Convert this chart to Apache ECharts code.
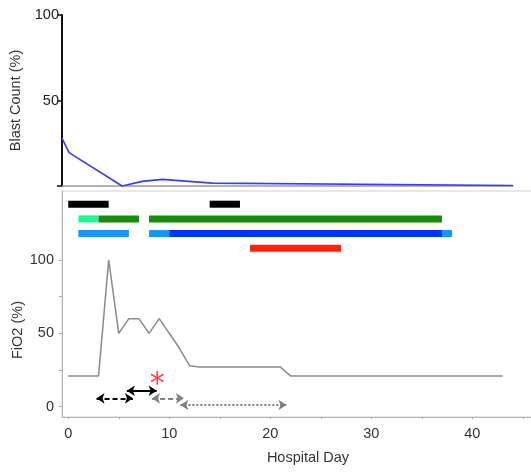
<!DOCTYPE html>
<html><head><meta charset="utf-8">
<script src="https://cdn.jsdelivr.net/npm/echarts@6/dist/echarts.min.js"></script>
<style>html,body{margin:0;padding:0;background:#fff}#c{width:531px;height:472px}</style>
</head><body><div id="c"></div>
<script>
// ---- data ----
const blastDays = [0, 0.7, 6, 8, 10, 15, 45];
const blastValues = [28, 19.5, 0, 2.7, 3.9, 1.7, 0.3];
const fio2Days = [0, 3, 4, 5, 6, 7, 8, 9, 11, 12, 13, 21, 22, 43];
const fio2Values = [21, 21, 100, 50, 60, 60, 50, 60, 40, 28, 27, 27, 21, 21];
const xTickLabels = [0, 10, 20, 30, 40];
const xMinorTicks = [0, 5, 10, 15, 20, 25, 30, 35, 40, 45];
const blastTickLabels = [50, 100];
const fio2TickLabels = [0, 50, 100];
const fio2Ticks = [0, 25, 50, 75, 100];
// treatment timeline rows (value on the FiO2 scale) and segments [start, end, row, kind]
const trackRows = [138, 128, 118, 108];
const trackSegments = [
  [0, 4, 0, 'black'], [14, 17, 0, 'black'],
  [1, 3, 1, 'lightGreen'], [3, 7, 1, 'green'], [8, 37, 1, 'green'],
  [1, 6, 2, 'lightBlue'], [8, 10, 2, 'lightBlue'], [10, 37, 2, 'blue'], [37, 38, 2, 'lightBlue'],
  [18, 27, 3, 'red']
];
// arrows [start, end, level, kind]
const arrowSegments = [
  [2.8, 6.4, 5.7, 'blackDashed'],
  [5.8, 8.75, 10.9, 'blackSolid'],
  [8.3, 11.45, 5.7, 'grayDashed'],
  [11.1, 21.6, 1.2, 'grayDotted']
];
const asteriskPoint = [8.8, 15];

// ---- styles ----
const segColors = {black:'#000000', lightGreen:'#1dfa92', green:'#178c08', lightBlue:'#1694ff', blue:'#0033ff', red:'#ff2200'};
const arrowStyles = {
  blackDashed:{color:'#000', type:[5,3]},
  blackSolid:{color:'#000', type:'solid'},
  grayDashed:{color:'#808080', type:[5,3]},
  grayDotted:{color:'#808080', type:[2,2]}
};
const FONT = 'Liberation Sans';
const chart = echarts.init(document.getElementById('c'));

const arrowSeries = Object.keys(arrowStyles).map(k => ({
  type:'lines', coordinateSystem:'cartesian2d', xAxisIndex:1, yAxisIndex:1,
  symbol:['arrow','arrow'], symbolSize:8, silent:true,
  lineStyle:{color:arrowStyles[k].color, type:arrowStyles[k].type, width:2, opacity:1},
  data: arrowSegments.filter(a => a[3] === k).map(a => ({coords:[[a[0], a[2]], [a[1], a[2]]]}))
}));

chart.setOption({
  animation:false,
  textStyle:{fontFamily:FONT},
  grid:[
    {left:62, right:18, top:15, bottom:286, containLabel:false, outerBoundsMode:'none'},
    {left:62, right:-3, top:191, bottom:55, show:true, borderColor:'#cfcfcf', borderWidth:1, containLabel:false, outerBoundsMode:'none'}
  ],
  xAxis:[
    {type:'value', gridIndex:0, min:0, max:45, axisLine:{show:true, lineStyle:{color:'#999', width:1.5}},
     axisTick:{show:false}, axisLabel:{show:false}, splitLine:{show:false}},
    {type:'value', gridIndex:1, min:-0.62, max:46.11,
     axisLine:{show:true, onZero:false, lineStyle:{color:'#b5b5b5', width:1}},
     axisTick:{show:true, inside:false, length:2, customValues:xMinorTicks, lineStyle:{color:'#aaa'}},
     axisLabel:{customValues:xTickLabels, color:'#333', fontSize:14.5, margin:9, fontFamily:FONT},
     splitLine:{show:false}}
  ],
  yAxis:[
    {type:'value', gridIndex:0, min:0, max:100,
     name:'Blast Count (%)', nameLocation:'middle', nameGap:37, nameRotate:90,
     nameTextStyle:{fontSize:14.5, color:'#333', fontFamily:FONT},
     axisLine:{show:true, lineStyle:{color:'#111', width:2}},
     axisTick:{show:true, length:5, customValues:[0,50,100], lineStyle:{color:'#111', width:1.5}},
     axisLabel:{customValues:blastTickLabels, color:'#222', fontSize:14.5, margin:3, fontFamily:FONT},
     splitLine:{show:false}},
    {type:'value', gridIndex:1, min:-7, max:147,
     axisLine:{show:true, onZero:false, lineStyle:{color:'#b5b5b5', width:1}},
     axisTick:{show:true, length:3, customValues:fio2Ticks, lineStyle:{color:'#aaa'}},
     axisLabel:{customValues:fio2TickLabels, color:'#333', fontSize:14.5, margin:8, fontFamily:FONT},
     splitLine:{show:false}}
  ],
  graphic:[
    {type:'text', x:18, y:330, rotation:Math.PI/2, style:{text:'FiO2 (%)', font:'14.5px "Liberation Sans"', fill:'#333', align:'center', verticalAlign:'middle'}},
    {type:'text', x:308, y:458, style:{text:'Hospital Day', font:'14.5px "Liberation Sans"', fill:'#333', align:'center', verticalAlign:'middle'}}
  ],
  series:[
    {type:'line', xAxisIndex:0, yAxisIndex:0, showSymbol:false, symbol:'none',
     lineStyle:{color:'#3a3aff', width:1.6}, data: blastDays.map((d,i)=>[d, blastValues[i]])},
    {type:'line', xAxisIndex:1, yAxisIndex:1, showSymbol:false, symbol:'none',
     lineStyle:{color:'#8a8a8a', width:1.5}, data: fio2Days.map((d,i)=>[d, fio2Values[i]])},
    {type:'custom', xAxisIndex:1, yAxisIndex:1, silent:true,
     data: trackSegments.map(s => [s[0], s[1], trackRows[s[2]], s[3]]),
     dimensions:['start','end','y','kind'],
     encode:{x:[0,1], y:2},
     renderItem:(params, api) => {
       const p0 = api.coord([api.value(0), api.value(2)]);
       const p1 = api.coord([api.value(1), api.value(2)]);
       const h = 7;
       const kind = trackSegments[params.dataIndex][3];
       return {type:'rect', shape:{x:p0[0], y:p0[1]-h/2, width:p1[0]-p0[0], height:h},
               style:{fill:segColors[kind]}};
     }},
    ...arrowSeries,
    {type:'scatter', xAxisIndex:1, yAxisIndex:1, symbolSize:0, silent:true,
     label:{show:true, formatter:'*', color:'#ff1010', fontSize:30, position:'inside', fontFamily:'DejaVu Sans'},
     data:[asteriskPoint]}
  ]
});
</script></body></html>
